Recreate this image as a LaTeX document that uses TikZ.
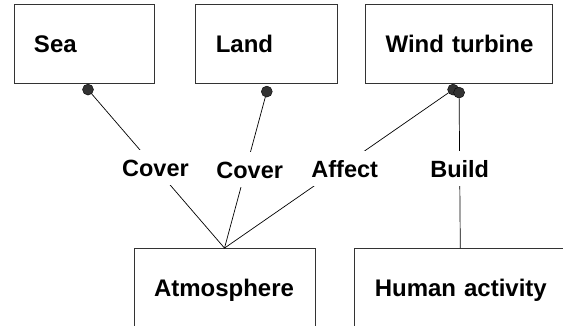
\documentclass[tikz,border=0pt]{standalone}
\usepackage{fontspec}
\setmainfont{Liberation Sans}
\usetikzlibrary{positioning}

\begin{document}
\begin{tikzpicture}[x=1pt, y=-1pt,
    box/.style={draw=black!80, line width=0.8pt, fill=white, minimum height=79pt,
                inner xsep=20pt, align=left, text height=17pt, text depth=0pt,
                execute at begin node={\hyphenpenalty=10000},
                font=\fontsize{24}{29}\selectfont\bfseries},
    dot/.style={circle, draw=black, fill=black!80, inner sep=0pt, minimum size=11pt},
    link/.style={draw=black, line width=0.7pt},
    lbl/.style={fill=white, inner xsep=1pt, inner ysep=9pt, text height=17pt, text depth=0pt,
                font=\fontsize{23.5}{28}\selectfont\bfseries}]
  \useasboundingbox (0,0) rectangle (563,326);
  \clip (0,0) rectangle (563,326);

  \node[box, text width=100pt] (sea)   at (84,44)            {Sea};
  \node[box, text width=102pt] (land)  [right=41pt of sea]   {Land};
  \node[box, text width=147pt] (wind)  [right=27pt of land]  {Wind~turbine};
  \node[box, text width=141pt] (atmos) at (224.5,288)        {Atmosphere};
  \node[box, text width=171pt] (human) [right=39pt of atmos] {Human~activity};

  \node[dot] (seadot)   [below=0pt of sea, xshift=4pt]   {};
  \node[dot] (landdot)  [below=0pt of land, yshift=-2pt] {};
  \node[dot] (winddot)  [below=0pt of wind, xshift=-6pt] {};
  \node[dot] (builddot) [below=0pt of wind, yshift=-3pt] {};

  \path (seadot)   edge [link] node[lbl, pos=0.48]              {Cover}  (atmos.north)
        (landdot)  edge [link] node[lbl, pos=0.48, xshift=4pt]  {Cover}  (atmos.north)
        (winddot)  edge [link] node[lbl, pos=0.49, xshift=6pt]  {Affect} (atmos.north)
        (builddot) edge [link] node[lbl, pos=0.47]              {Build}  (human.north)
        ;
\end{tikzpicture}
\end{document}
